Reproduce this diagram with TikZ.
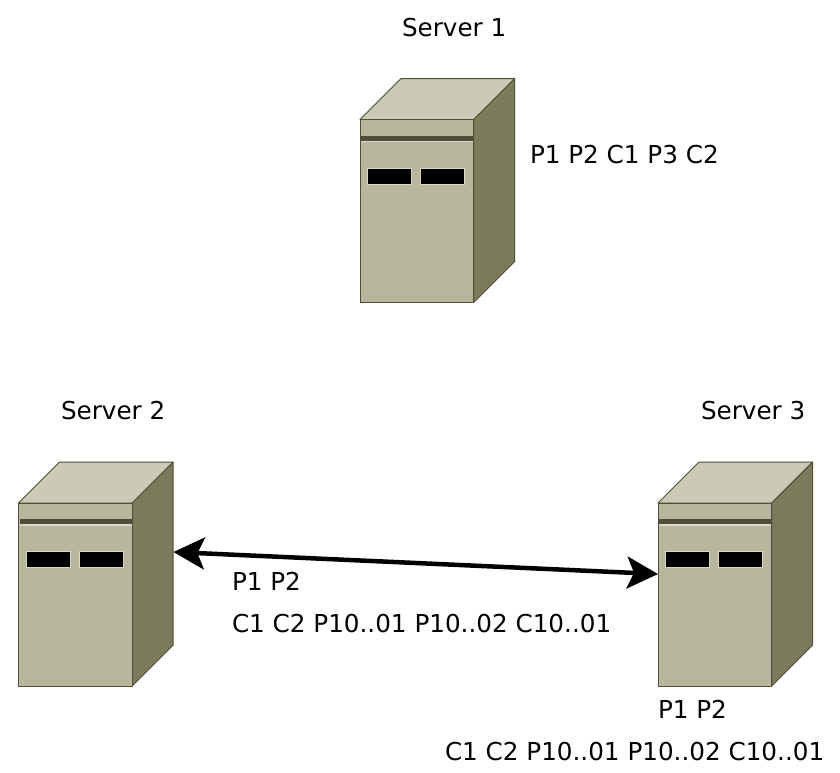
\documentclass[tikz,border=0pt]{standalone}
\usepackage{fontspec}
\setmainfont{DejaVu Sans}
\usetikzlibrary{arrows.meta}
\definecolor{srvtop}{HTML}{CBCAB6}
\definecolor{srvfront}{HTML}{B8B79D}
\definecolor{srvside}{HTML}{7B7B5B}
\definecolor{srvedge}{HTML}{4F4F38}
\definecolor{srvlight}{HTML}{D8D8C8}
\tikzset{
  x=1pt, y=-1pt,
  caseface/.style={draw=srvedge, line width=1pt, line join=round},
  caseslot/.style={fill=black, draw=srvlight, line width=1pt},
  caption/.style={anchor=base west, inner sep=0pt, outer sep=0pt, font=\fontsize{24.65}{28}\selectfont},
  envelope/.style={inner sep=0pt, outer sep=0pt, minimum width=155pt, minimum height=224pt},
  netlink/.style={line width=4.5pt, {Stealth[length=31pt,width=32pt,inset=7pt]}-{Stealth[length=31pt,width=32pt,inset=7pt]}}
}
% Tower case: name, then the top-left corner of its front face
\newcommand{\towercase}[3]{%
  \begin{scope}[shift={(#2,#3)}]
    \node[envelope, anchor=north west] (#1) at (0,-41) {};
    \fill[srvtop, caseface] (0,0) -- (41,-41) -- (154.7,-41) -- (113.7,0) -- cycle;
    \fill[srvside, caseface] (113.7,0) -- (154.7,-41) -- (154.7,142) -- (113.7,183) -- cycle;
    \fill[srvfront, caseface] (0,0) rectangle (113.7,183);
    \fill[srvedge] (1,16) rectangle (113.2,21);
    \fill[srvlight] (1,21) rectangle (113.2,22.5);
    \draw[caseslot] (7.5,48.5) rectangle (51.5,64.5);
    \draw[caseslot] (60.5,48.5) rectangle (104.5,64.5);
  \end{scope}%
}
\begin{document}
\begin{tikzpicture}
  \useasboundingbox (0,0) rectangle (840,772);
  \towercase{serverone}{360}{119.5}
  \towercase{servertwo}{18.5}{503}
  \towercase{serverthree}{658}{503}

  \draw[netlink] ([yshift=22pt]servertwo.east) -- (serverthree.west);

  \node[caption] (nameone) at (402,36) {Server 1};
  \node[caption] (nametwo) at (61,419) {Server 2};
  \node[caption] (namethree) at (701,419) {Server 3};
  \node[caption] (logone) at (530,163) {P1 P2 C1 P3 C2};
  \node[caption] (linkfirst) at (232,590) {P1 P2};
  \node[caption] (linksecond) at (232,632) {C1 C2 P10..01 P10..02 C10..01};
  \node[caption] (logthreefirst) at (658,718) {P1 P2};
  \node[caption] (logthreesecond) at (445,760) {C1 C2 P10..01 P10..02 C10..01};
\end{tikzpicture}
\end{document}
